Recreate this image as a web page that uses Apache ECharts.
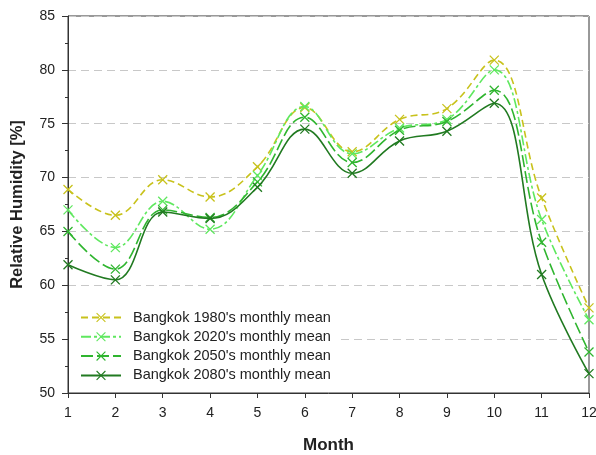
<!DOCTYPE html>
<html>
<head>
<meta charset="utf-8">
<script src="https://cdn.jsdelivr.net/npm/echarts@6/dist/echarts.min.js"></script>
<style>html,body{margin:0;padding:0;background:#fff}#c{width:596px;height:455px}</style>
</head>
<body>
<div id="c"></div>
<script>
const months = [1, 2, 3, 4, 5, 6, 7, 8, 9, 10, 11, 12];
const rh1980 = [68.9, 66.5, 69.8, 68.2, 71.0, 76.5, 72.4, 75.4, 76.4, 80.9, 68.1, 57.9];
const rh2020 = [67.0, 63.5, 67.8, 65.2, 70.2, 76.6, 72.2, 74.6, 75.4, 80.0, 66.1, 56.8];
const rh2050 = [65.0, 61.5, 67.0, 66.3, 69.6, 75.6, 71.4, 74.4, 75.2, 78.1, 64.0, 53.8];
const rh2080 = [61.9, 60.5, 66.8, 66.2, 69.1, 74.5, 70.4, 73.4, 74.3, 76.9, 61.0, 51.8];
const seriesNames = ["Bangkok 1980's monthly mean", "Bangkok 2020's monthly mean", "Bangkok 2050's monthly mean", "Bangkok 2080's monthly mean"];

const colors = ['#c8c21c', '#5fe85f', '#2fb52f', '#217a21'];
const dashes = [[7, 4], [10, 3, 3, 3], [12, 4], 'solid'];
const values = [rh1980, rh2020, rh2050, rh2080];
const xSym = 'path://M0,0L10,10M10,0L0,10';

const series = values.map((v, i) => ({
  name: seriesNames[i],
  type: 'line',
  data: months.map((m, j) => [m, v[j]]),
  smooth: 0.4,
  symbol: xSym,
  symbolSize: 9,
  showAllSymbol: true,
  itemStyle: { color: colors[i], borderColor: colors[i], borderWidth: 1.3 },
  lineStyle: { color: colors[i], width: 1.6, type: dashes[i] },
  z: 2 + i
}));

const chart = echarts.init(document.getElementById('c'), null, { renderer: 'canvas' });
chart.setOption({
  animation: false,
  textStyle: { fontFamily: 'Liberation Sans, Arial, sans-serif' },
  grid: { left: 68, right: 7, top: 16, bottom: 62, outerBoundsMode: 'none', containLabel: false, show: true, borderColor: '#333', borderWidth: 1, backgroundColor: 'transparent' },
  legend: {
    orient: 'vertical', left: 69, top: 304, itemGap: 4.3, itemWidth: 40, itemHeight: 11,
    padding: [6, 9, 6, 11], backgroundColor: '#ffffff',
    itemStyle: { borderWidth: 1.1 },
    textStyle: { fontSize: 14.5, lineHeight: 14, color: '#222', padding: [0, 0, 0, 7], fontFamily: 'Liberation Sans, Arial, sans-serif' },
    data: seriesNames
  },
  xAxis: {
    type: 'value', min: 1, max: 12, interval: 1,
    name: 'Month', nameLocation: 'middle', nameGap: 44,
    nameTextStyle: { fontSize: 17, fontWeight: 'bold', color: '#222' },
    axisLine: { lineStyle: { color: '#333' } },
    axisTick: { show: true, length: 5, lineStyle: { color: '#333' } },
    axisLabel: { fontSize: 14, color: '#222', margin: 13 },
    splitLine: { show: false }
  },
  yAxis: {
    type: 'value', min: 50, max: 85, interval: 5,
    name: 'Relative Humidity [%]', nameLocation: 'middle', nameGap: 42, nameRotate: 90,
    nameTextStyle: { fontSize: 16.5, fontWeight: 'bold', color: '#222' },
    axisLine: { show: true, lineStyle: { color: '#333' } },
    axisTick: { show: true, length: 6, lineStyle: { color: '#333' } },
    minorTick: { show: true, splitNumber: 2, length: 3, lineStyle: { color: '#333' } },
    axisLabel: { fontSize: 14, color: '#222', margin: 13 },
    splitLine: { show: true, lineStyle: { color: '#c8c8c8', type: [8, 5], width: 1 } }
  },
  series: series
});
</script>
</body>
</html>
